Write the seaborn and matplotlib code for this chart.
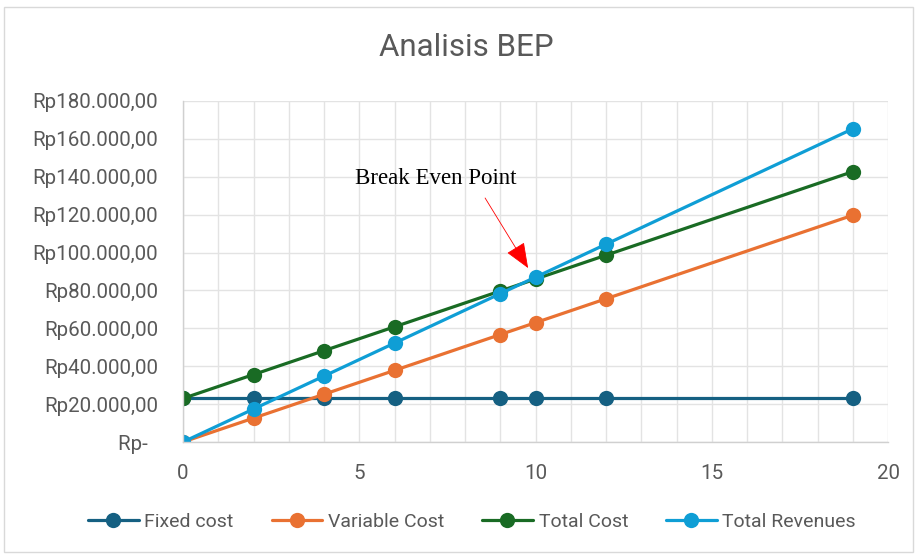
"""Break-even analysis chart (Analisis BEP)."""

import matplotlib

matplotlib.use("Agg")

import matplotlib.pyplot as plt
import matplotlib.ticker as mticker
import pandas as pd
import seaborn as sns

units = [0, 2, 4, 6, 9, 10, 12, 19]
fixed_cost = [23000, 23000, 23000, 23000, 23000, 23000, 23000, 23000]
variable_cost = [0, 12600, 25200, 37800, 56700, 63000, 75600, 119700]
total_cost = [23000, 35600, 48200, 60800, 79700, 86000, 98600, 142700]
total_revenues = [0, 17400, 34800, 52200, 78300, 87000, 104400, 165300]

series_names = ["Fixed cost", "Variable Cost", "Total Cost", "Total Revenues"]
series_colors = ["#156082", "#E97132", "#196B24", "#0F9ED5"]

frame = pd.DataFrame({
    "units": units * 4,
    "value": fixed_cost + variable_cost + total_cost + total_revenues,
    "series": [name for name in series_names for _ in units],
})


def rupiah(value, _pos):
    # accounting style: zero shows as a dash, with trailing padding
    if value == 0:
        return "Rp-  "
    text = f"{value:,.2f}"
    text = text.replace(",", "_").replace(".", ",").replace("_", ".")
    return f"Rp{text}"


sns.set_theme(style="white")
plt.rcParams["font.family"] = ["Roboto", "DejaVu Sans"]
grey_text = "#595959"

figure = plt.figure(figsize=(9.17, 5.56), dpi=100)
axis = figure.add_axes([183 / 917, 1 - 442 / 556, (888 - 183) / 917, (442 - 101) / 556])

sns.lineplot(
    data=frame,
    x="units",
    y="value",
    hue="series",
    hue_order=series_names,
    palette=series_colors,
    marker="o",
    markersize=11,
    markeredgewidth=0,
    linewidth=2.3,
    ax=axis,
)

axis.set_xlim(0, 20)
axis.set_ylim(0, 180000)
axis.xaxis.set_major_locator(mticker.MultipleLocator(5))
axis.xaxis.set_minor_locator(mticker.MultipleLocator(1))
axis.yaxis.set_major_locator(mticker.MultipleLocator(20000))
axis.yaxis.set_major_formatter(mticker.FuncFormatter(rupiah))
axis.grid(which="both", axis="x", color="#e3e3e3", linewidth=1)
axis.grid(which="major", axis="y", color="#e3e3e3", linewidth=1)
axis.set_axisbelow(True)
axis.tick_params(axis="both", which="both", length=0, labelsize=14.8, colors=grey_text)
axis.tick_params(axis="y", pad=18)
axis.tick_params(axis="x", pad=16)
axis.set_xlabel("")
axis.set_ylabel("")
for side in ["top", "right"]:
    axis.spines[side].set_visible(False)
for side in ["left", "bottom"]:
    axis.spines[side].set_color("#d0d0d0")
    axis.spines[side].set_linewidth(1)

# Break-even annotation
axis.text(4.88, 139300, "Break Even Point", fontsize=16.5, family="Liberation Serif",
          color="black", ha="left", va="center")
axis.annotate(
    "",
    xy=(9.79, 91800),
    xytext=(8.57, 128800),
    arrowprops=dict(arrowstyle="-|>,head_length=1.6,head_width=0.65", color="red",
                    linewidth=0.6, shrinkA=0, shrinkB=0, mutation_scale=10),
)

handles, labels = axis.get_legend_handles_labels()
axis.get_legend().remove()
figure.legend(
    handles,
    labels,
    loc="center",
    bbox_to_anchor=(472 / 917, 1 - 522 / 556),
    ncol=4,
    frameon=False,
    fontsize=14,
    labelcolor=grey_text,
    handlelength=2.6,
    handletextpad=0.3,
    columnspacing=1.95,
)

figure.text(466 / 917, 1 - 48 / 556, "Analisis BEP", ha="center", va="center", fontsize=22.5, color=grey_text)
figure.patches.append(plt.Rectangle((4 / 917, 4 / 556), 909 / 917, 545 / 556, transform=figure.transFigure,
                                    fill=False, edgecolor="#d9d9d9", linewidth=1))

figure.savefig("out.png", dpi=100)
plt.close(figure)
